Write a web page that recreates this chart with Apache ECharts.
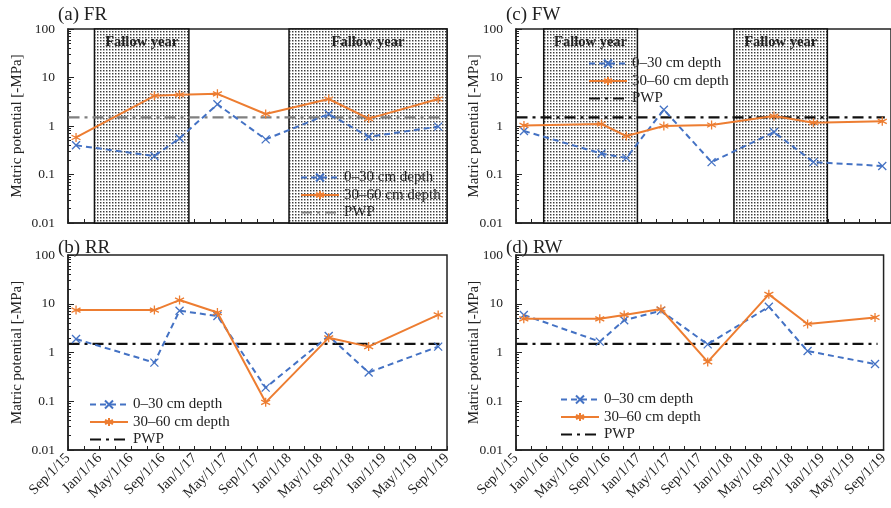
<!DOCTYPE html>
<html>
<head>
<meta charset="utf-8">
<script src="https://cdn.jsdelivr.net/npm/echarts@6/dist/echarts.min.js"></script>
<style>
html,body{margin:0;padding:0;background:#fff;}
#chart{width:891px;height:508px;}
</style>
</head>
<body>
<div id="chart"></div>
<script>
// ---------------- data ----------------
const sampleDates = ['2015-10-02','2016-07-30','2016-11-04','2017-03-30','2017-10-02','2018-06-02','2018-11-03','2019-07-29'];
const frShallow = [0.40, 0.24, 0.56, 2.8, 0.53, 1.77, 0.60, 0.97];
const frDeep    = [0.58, 4.2, 4.4, 4.6, 1.77, 3.6, 1.42, 3.6];
const fwShallow = [0.79, 0.27, 0.22, 2.17, 0.18, 0.75, 0.18, 0.15];
const fwDeep    = [1.03, 1.1, 0.62, 1.0, 1.05, 1.6, 1.17, 1.25];
const rrShallow = [1.89, 0.62, 7.2, 5.6, 0.19, 2.18, 0.39, 1.32];
const rrDeep    = [7.4, 7.4, 11.9, 6.6, 0.095, 2.0, 1.32, 5.9];
const rwShallow = [5.9, 1.67, 4.6, 7.2, 1.47, 8.7, 1.07, 0.58];
const rwDeep    = [4.9, 4.9, 5.9, 7.8, 0.64, 15.6, 3.85, 5.25];
const pwpValue = 1.5;
const pwpSpan = ['2015-09-03','2019-08-08'];
const frFallow = [['2015-12-12','2016-12-10'], ['2017-12-31','2019-09-01']];
const fwFallow = [['2015-12-18','2016-12-17'], ['2017-12-28','2018-12-27']];
const fallowLabel = 'Fallow year';
const legendNames = ['0–30 cm depth', '30–60 cm depth', 'PWP'];
const panelTitles = ['(a) FR', '(c) FW', '(b) RR', '(d) RW'];
const axisStart = '2015-09-01', axisEnd = '2019-09-01';
const yTickDecades = [0.01, 0.1, 1, 10, 100];
const yAxisName = 'Matric potential [-MPa]';
const monthNames = ['Jan','Feb','Mar','Apr','May','Jun','Jul','Aug','Sep','Oct','Nov','Dec'];

// ---------------- helpers ----------------
function ts(s){ const p = s.split('-').map(Number); return Date.UTC(p[0], p[1]-1, p[2]); }
function monthsFrom(start, end, step){
  const a = new Date(ts(start)), out = [];
  let y = a.getUTCFullYear(), m = a.getUTCMonth();
  const e = ts(end);
  while (true){ const t = Date.UTC(y, m, 1); if (t > e) break; out.push(t); m += step; while (m > 11){ m -= 12; y++; } }
  return out;
}
const xTicks = monthsFrom(axisStart, axisEnd, 2);
const xLabels = monthsFrom(axisStart, axisEnd, 4);
const yMinor = [];
yTickDecades.slice(0, -1).forEach(d => { for (let k = 2; k <= 9; k++) yMinor.push(+(d * k).toPrecision(3)); });

function zip(vals){ return sampleDates.map((d, i) => [ts(d), vals[i]]); }

// dotted pattern
const pat = document.createElement('canvas');
pat.width = 3; pat.height = 3;
const pc = pat.getContext('2d');
pc.fillStyle = '#fff'; pc.fillRect(0, 0, 3, 3);
pc.fillStyle = '#3c3c3c'; pc.fillRect(1, 1, 1, 1);
pc.fillStyle = '#a8a8a8'; pc.fillRect(2, 1, 1, 1); pc.fillRect(1, 2, 1, 1);
pc.fillStyle = '#d0d0d0'; pc.fillRect(2, 2, 1, 1);

const FONT = 'Liberation Serif, Times New Roman, serif';
const BLUE = '#4472C4', ORANGE = '#ED7D31';
const xSym = 'path://M0,0L10,10M10,0L0,10';
const starSym = 'path://M5,0L5,10M0.7,2.5L9.3,7.5M0.7,7.5L9.3,2.5';

// ---------------- layout ----------------
const grids = [
  {left: 68, top: 29, width: 379, height: 194},
  {left: 516, top: 29, width: 379, height: 194},
  {left: 68, top: 255, width: 379, height: 195},
  {left: 516, top: 255, width: 379, height: 195}
];
const titleTops = [6, 6, 239, 239];
const panels = [
  {key: 'FR', s: frShallow, d: frDeep, pwpColor: '#808080', fallow: frFallow, legend: {left: 300, top: 170}, nameGap: 43},
  {key: 'FW', s: fwShallow, d: fwDeep, pwpColor: '#111', fallow: fwFallow, legend: {left: 588, top: 56}, nameGap: 34},
  {key: 'RR', s: rrShallow, d: rrDeep, pwpColor: '#111', fallow: null, legend: {left: 89, top: 397}, nameGap: 43},
  {key: 'RW', s: rwShallow, d: rwDeep, pwpColor: '#111', fallow: null, legend: {left: 560, top: 392}, nameGap: 34}
];

const option = {
  animation: false,
  backgroundColor: '#fff',
  title: [], grid: [], xAxis: [], yAxis: [], series: [], legend: []
};

panels.forEach((p, i) => {
  const g = grids[i];
  option.grid.push(Object.assign({show: true, borderColor: '#222', borderWidth: 1.5, backgroundColor: 'transparent', containLabel: false}, g));
  option.title.push({
    text: panelTitles[i], left: g.left - 10, top: titleTops[i], padding: 0,
    textStyle: {fontFamily: FONT, fontSize: 19, fontWeight: 'normal', color: '#222'}
  });
  const bottomRow = i >= 2;
  option.xAxis.push({
    type: 'value', gridIndex: i, min: ts(axisStart), max: ts(axisEnd),
    axisLine: {show: true, onZero: false, lineStyle: {color: '#222', width: 1.5}},
    axisTick: {show: true, inside: true, length: 4, customValues: xTicks, lineStyle: {color: '#222', width: 1}},
    axisLabel: {
      show: bottomRow, customValues: xLabels, rotate: 45, margin: 6,
      fontFamily: FONT, fontSize: 14.5, color: '#222',
      formatter: v => { const d = new Date(v); return monthNames[d.getUTCMonth()] + '/' + d.getUTCDate() + '/' + String(d.getUTCFullYear()).slice(2); }
    },
    splitLine: {show: false}
  });
  option.yAxis.push({
    type: 'log', logBase: 10, gridIndex: i, min: 0.01, max: 100, position: 'left',
    name: yAxisName, nameLocation: 'middle', nameGap: p.nameGap, nameMoveOverlap: false,
    nameTextStyle: {fontFamily: FONT, fontSize: 15, color: '#222'},
    axisLine: {show: true, lineStyle: {color: '#222', width: 1.5}},
    axisTick: {show: true, inside: true, length: 6, customValues: yTickDecades, lineStyle: {color: '#222', width: 1}},
    axisLabel: {
      customValues: yTickDecades, margin: 13, fontFamily: FONT, fontSize: 13.5, color: '#222',
      formatter: v => ({'-2': '0.01', '-1': '0.1', '0': '1', '1': '10', '2': '100'})[String(Math.round(Math.log10(v)))]
    },
    splitLine: {show: false}, minorTick: {show: false}
  });
  option.yAxis.push({
    type: 'log', logBase: 10, gridIndex: i, min: 0.01, max: 100, position: 'left', offset: 0,
    axisLine: {show: false},
    axisTick: {show: true, inside: true, length: 3, customValues: yMinor, lineStyle: {color: '#222', width: 1}},
    axisLabel: {show: false}, splitLine: {show: false}
  });
  const names = legendNames.map(n => p.key + '|' + n);
  const pwpSeries = {
    name: names[2], type: 'line', xAxisIndex: i, yAxisIndex: 2 * i, z: 3,
    data: pwpSpan.map(d => [ts(d), pwpValue]), symbol: 'none',
    lineStyle: {color: p.pwpColor, width: 2.2, type: [11, 5, 3, 5]},
    itemStyle: {color: 'rgba(0,0,0,0)', borderColor: 'rgba(0,0,0,0)', borderWidth: 0}
  };
  if (p.fallow){
    pwpSeries.markArea = {
      silent: true, z: 1,
      itemStyle: {color: {image: pat, repeat: 'repeat'}, borderColor: '#111', borderWidth: 1.5},
      label: {show: true, position: 'insideTop', distance: 6, formatter: fallowLabel,
              fontFamily: FONT, fontSize: 14.5, fontWeight: 'bold', color: '#222'},
      data: p.fallow.map(f => [{xAxis: ts(f[0])}, {xAxis: ts(f[1])}])
    };
  }
  option.series.push(pwpSeries);
  option.series.push({
    name: names[0], type: 'line', xAxisIndex: i, yAxisIndex: 2 * i, z: 4,
    data: zip(p.s), symbol: xSym, symbolSize: 8,
    lineStyle: {color: BLUE, width: 2, type: [6, 4]},
    itemStyle: {color: BLUE, borderColor: BLUE, borderWidth: 1.3}
  });
  option.series.push({
    name: names[1], type: 'line', xAxisIndex: i, yAxisIndex: 2 * i, z: 5,
    data: zip(p.d), symbol: starSym, symbolSize: 9,
    lineStyle: {color: ORANGE, width: 2, type: 'solid'},
    itemStyle: {color: ORANGE, borderColor: ORANGE, borderWidth: 1.3}
  });
  option.legend.push({
    data: names, orient: 'vertical', left: p.legend.left, top: p.legend.top,
    itemWidth: 38, itemHeight: 10, itemGap: 2.5, padding: 0, selectedMode: false,
    textStyle: {fontFamily: FONT, fontSize: 15, color: '#222'},
    formatter: n => n.split('|')[1]
  });
});

const chart = echarts.init(document.getElementById('chart'), null, {renderer: 'canvas'});
chart.setOption(option);
</script>
</body>
</html>
